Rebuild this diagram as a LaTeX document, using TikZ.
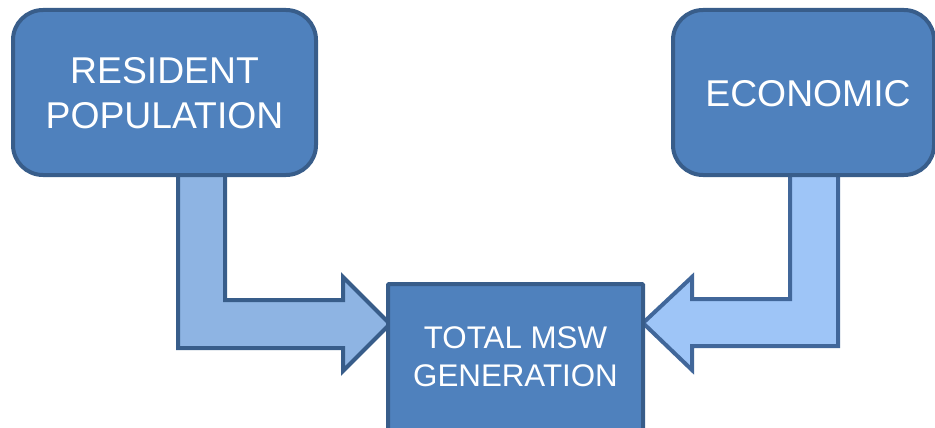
\documentclass[tikz,border=0pt]{standalone}
\usepackage{fontspec}
\setmainfont{Liberation Sans}
\definecolor{boxfill}{HTML}{4F81BD}
\definecolor{boxline}{HTML}{385D8A}
\definecolor{arrowA}{HTML}{8EB4E3}
\definecolor{arrowB}{HTML}{9EC5F7}
\definecolor{arrowBline}{HTML}{41679A}
\begin{document}
\begin{tikzpicture}[x=1pt,y=-1pt,
  factor/.style={draw=boxline, fill=boxfill, line width=4pt, rounded corners=30pt},
  result/.style={draw=boxline, fill=boxfill, line width=4pt, rounded corners=1pt},
  bigarrow/.style={line width=4pt, line join=miter},
  label/.style={text=white, align=center, inner sep=0pt}]
\useasboundingbox (0,0) rectangle (935,428);

% bent block arrow from the population box into the result box
\draw[bigarrow, draw=boxline, fill=arrowA]
  (178,160) -- (178,348) -- (343,348) -- (343,371) -- (390,324)
  -- (343,277) -- (343,300) -- (225,300) -- (225,160) -- cycle;

% bent block arrow from the economic box into the result box
\draw[bigarrow, draw=arrowBline, fill=arrowB]
  (838,160) -- (838,346) -- (692,346) -- (692,370) -- (643,323)
  -- (692,277) -- (692,299) -- (790,299) -- (790,160) -- cycle;

% input boxes
\draw[factor] (13,10) rectangle (316,175);
\node[label, font=\fontsize{37.3}{45}\selectfont] (pop) at (164.5,93.5)
  {RESIDENT\\POPULATION};

\draw[factor] (673,10) rectangle (934,175);
\node[label, font=\fontsize{37.3}{45}\selectfont] (eco) at (808,93.5)
  {ECONOMIC};

% result box, running past the lower edge
\draw[result] (388,284) rectangle (643,445);
\node[label, font=\fontsize{31.3}{38}\selectfont] (msw) at (515.5,357)
  {TOTAL MSW\\GENERATION};
\end{tikzpicture}
\end{document}
